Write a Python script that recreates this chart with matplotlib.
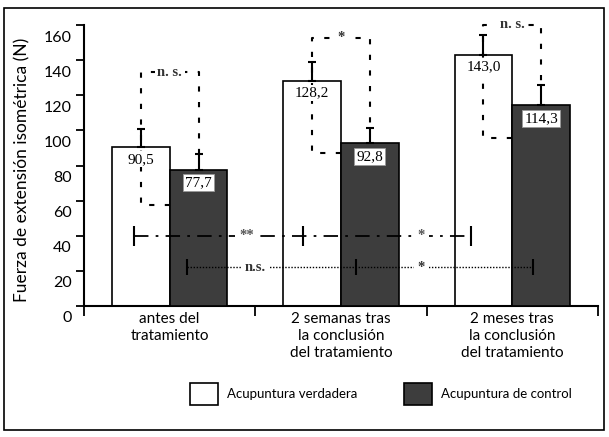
import numpy as np
import matplotlib
matplotlib.use('Agg')
import matplotlib.pyplot as plt
from matplotlib.patches import Patch, Rectangle
from matplotlib.transforms import ScaledTranslation

plt.rcParams['font.family'] = ['Lato', 'DejaVu Sans']

# datos
grupos = ['antes del\ntratamiento',
          '2 semanas tras\nla conclusión\ndel tratamiento',
          '2 meses tras\nla conclusión\ndel tratamiento']
verdadera = [90.5, 128.2, 143.0]
control = [77.7, 92.8, 114.3]
err_verdadera = [10.3, 10.8, 11.3]
err_control = [8.9, 8.6, 11.6]
etiq_verdadera = ['90,5', '128,2', '143,0']
etiq_control = ['77,7', '92,8', '114,3']

# corchetes de significación entre grupos
corchete_bajo = [57.5, 87.0, 95.6]
corchete_alto = [133.0, 152.6, 160.0]
corchete_texto = ['n. s.', '*', 'n. s.']

# comparaciones en el tiempo
linea_verd_x = [-0.21, 0.78, 1.76]
linea_verd_y = 40
linea_verd_txt_x = [0.45, 1.47]
linea_verd_txt = ['**', '*']
linea_ctrl_x = [0.10, 1.09, 2.12]
linea_ctrl_y = 22
linea_ctrl_txt_x = [0.5, 1.47]
linea_ctrl_txt = ['n.s.', '*']

oscuro = '#3d3d3d'
serif = 'Liberation Serif'

fig = plt.figure(figsize=(6.09, 4.37), dpi=100)
ax = fig.add_axes([84/609, 1 - 306/437, (598 - 84)/609, (306 - 25)/437])

x = np.arange(len(grupos))
w = 0.337
xv = x - w/2
xc = x + w/2

ax.bar(xv, verdadera, w, color='white', edgecolor='black', lw=1.2, zorder=1)
ax.bar(xc, control, w, color=oscuro, edgecolor='black', lw=1.2, zorder=3)

ax.errorbar(xv, verdadera, yerr=[[0]*3, err_verdadera], fmt='none', ecolor='black',
            elinewidth=1.5, capsize=3, capthick=1.5, zorder=4)
ax.errorbar(xc, control, yerr=[[0]*3, err_control], fmt='none', ecolor='black',
            elinewidth=1.5, capsize=3, capthick=1.5, zorder=4)

# corchetes discontinuos
for i in range(len(grupos)):
    tope_c = control[i] + err_control[i]
    ax.plot([x[i], xv[i], xv[i], xc[i], xc[i]],
            [corchete_bajo[i], corchete_bajo[i], corchete_alto[i], corchete_alto[i], tope_c],
            ls=(0, (2.5, 5)), lw=1.5, color='black', zorder=2, clip_on=False)
    ax.text(x[i], corchete_alto[i], corchete_texto[i], ha='center', va='center',
            family=serif, fontsize=10.5, fontweight='bold', color='#333333',
            bbox=dict(fc='white', ec='none', pad=2), zorder=5, clip_on=False)

# etiquetas de valores
for i in range(len(grupos)):
    ax.text(xv[i], verdadera[i] - 7, etiq_verdadera[i], ha='center', va='center',
            family=serif, fontsize=11, bbox=dict(fc='white', ec='none', pad=1), zorder=5)
    ax.text(xc[i], control[i] - 7.5, etiq_control[i], ha='center', va='center',
            family=serif, fontsize=11,
            bbox=dict(fc='white', ec='#999999', lw=0.6, pad=1.5), zorder=5)

# líneas de comparación en el tiempo
ax.plot(linea_verd_x, [linea_verd_y]*3, ls=(0, (8, 4, 1.5, 4)), lw=1.3, color='black',
        marker='|', ms=14, mew=1.5, zorder=4)
for xt, t in zip(linea_verd_txt_x, linea_verd_txt):
    ax.text(xt, linea_verd_y, t, ha='center', va='center', family=serif, fontsize=10.5,
            fontweight='bold', color='#555555',
            bbox=dict(fc='white', ec='none', pad=3), zorder=5)

ax.plot(linea_ctrl_x, [linea_ctrl_y]*3, ls=(0, (1, 1.2)), lw=1.0, color='black',
        marker='|', ms=12, mew=1.5, zorder=4)
for xt, t in zip(linea_ctrl_txt_x, linea_ctrl_txt):
    ax.text(xt, linea_ctrl_y, t, ha='center', va='center', family=serif, fontsize=10.5,
            fontweight='bold', color='#333333',
            bbox=dict(fc='white', ec='none', pad=3), zorder=5)

# ejes
ax.set_xlim(-0.5, 2.5)
ax.set_ylim(0, 160)
for s in ['top', 'right']:
    ax.spines[s].set_visible(False)
ax.spines['left'].set_linewidth(1.5)
ax.spines['bottom'].set_linewidth(1.5)

ax.set_xticks([-0.5, 0.5, 1.5, 2.5])
ax.set_xticklabels([])
ax.set_xticks(x, minor=True)
ax.set_xticklabels(grupos, minor=True, fontsize=11, linespacing=1.3)
ax.tick_params(axis='x', which='major', length=7, width=1.3)
ax.tick_params(axis='x', which='minor', length=0, pad=4)

ax.set_yticks(np.arange(0, 161, 20))
ax.tick_params(axis='y', length=6, width=1.3, labelsize=11.5, pad=3)
off = ScaledTranslation(0, -11/100, fig.dpi_scale_trans)
for lab in ax.get_yticklabels():
    lab.set_transform(lab.get_transform() + off)

fig.text(22/609, 1 - 170/437, 'Fuerza de extensión isométrica (N)', rotation=90,
         ha='center', va='center', fontsize=12.5)

# leyenda
manejadores = [Patch(fc='white', ec='black', lw=1.2), Patch(fc=oscuro, ec='black', lw=1.2)]
fig.legend(manejadores, ['Acupuntura verdadera', 'Acupuntura de control'],
           loc='center', bbox_to_anchor=(381/609, 1 - 394/437), ncol=2, frameon=False,
           fontsize=9.5, handlelength=2.1, handleheight=2.1, handletextpad=0.7,
           columnspacing=3.5)

# marco
fig.add_artist(Rectangle((4/609, 1 - 430/437), 600/609, 422/437, transform=fig.transFigure,
                         fill=False, ec='black', lw=1.2))

fig.savefig('out.png', dpi=100)
